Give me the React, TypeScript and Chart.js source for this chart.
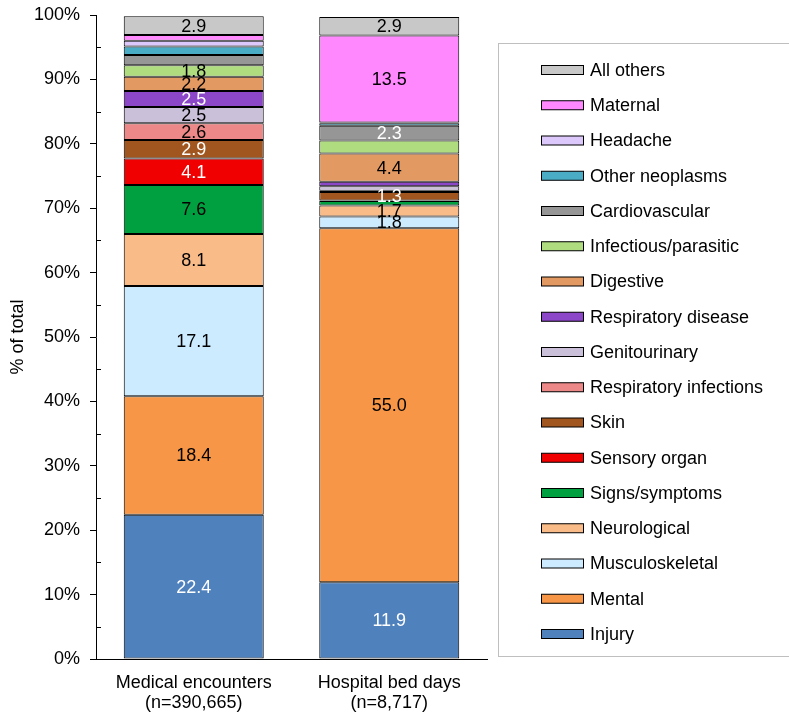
import React, { useEffect, useRef } from 'react';
import { Chart, registerables } from 'chart.js';
Chart.register(...registerables);

const categories = [['Medical encounters', '(n=390,665)'], ['Hospital bed days', '(n=8,717)']];
const seriesNames = ['Injury', 'Mental', 'Musculoskeletal', 'Neurological', 'Signs/symptoms', 'Sensory organ', 'Skin', 'Respiratory infections', 'Genitourinary', 'Respiratory disease', 'Digestive', 'Infectious/parasitic', 'Cardiovascular', 'Other neoplasms', 'Headache', 'Maternal', 'All others'];
const medicalValues = [22.4, 18.4, 17.1, 8.1, 7.6, 4.1, 2.9, 2.6, 2.5, 2.5, 2.2, 1.8, 1.6, 1.3, 0.9, 0.9, 2.9];
const hospitalValues = [11.9, 55.0, 1.8, 1.7, 0.7, 0.1, 1.3, 0.2, 0.7, 0.7, 4.4, 2.0, 2.3, 0.4, 0.1, 13.5, 2.9];
const medicalLabels = ['22.4', '18.4', '17.1', '8.1', '7.6', '4.1', '2.9', '2.6', '2.5', '2.5', '2.2', '1.8', '', '', '', '', '2.9'];
const hospitalLabels = ['11.9', '55.0', '1.8', '1.7', '', '', '1.3', '', '', '', '4.4', '', '2.3', '', '', '13.5', '2.9'];
const seriesColors = ['#4F81BD', '#F79646', '#CCEBFF', '#F9BC88', '#00A040', '#F00000', '#A0561E', '#EC8888', '#CBC0DA', '#8C46C8', '#E39A62', '#B0DC80', '#969696', '#4BACC6', '#DCC8FA', '#FF88FF', '#C8C8C8'];
const labelColors = ['#FFFFFF', '#000000', '#000000', '#000000', '#000000', '#FFFFFF', '#FFFFFF', '#000000', '#000000', '#FFFFFF', '#000000', '#000000', '#FFFFFF', '#000000', '#000000', '#000000', '#000000'];
const yTickMax = 100;
const yTickStep = 10;

const FONT = "'Liberation Sans', Arial, sans-serif";

const extrasPlugin = {
  id: 'extras',
  afterDatasetsDraw(chart: any) {
    const ctx = chart.ctx;
    const allLabels = [medicalLabels, hospitalLabels];
    ctx.save();
    ctx.font = `18px ${FONT}`;
    ctx.textAlign = 'center';
    ctx.textBaseline = 'middle';
    chart.data.datasets.forEach((ds: any, i: number) => {
      const meta = chart.getDatasetMeta(i);
      meta.data.forEach((el: any, j: number) => {
        const txt = allLabels[j][i];
        if (!txt) return;
        ctx.fillStyle = labelColors[i];
        ctx.fillText(txt, el.x, (el.y + el.base) / 2 + 1);
      });
    });
    ctx.restore();
  },
  afterDraw(chart: any) {
    const ctx = chart.ctx;
    const ca = chart.chartArea;
    const y = chart.scales.y;
    ctx.save();
    ctx.strokeStyle = '#000';
    ctx.lineWidth = 1;
    for (let v = yTickStep / 2; v < yTickMax; v += yTickStep) {
      const py = Math.round(y.getPixelForValue(v)) + 0.5;
      ctx.beginPath();
      ctx.moveTo(ca.left, py);
      ctx.lineTo(ca.left + 5, py);
      ctx.stroke();
    }
    const lx = ca.right + 11.5;
    ctx.strokeStyle = '#BFBFBF';
    ctx.strokeRect(lx, 43.5, chart.width - lx + 5, 613);
    const n = chart.data.datasets.length;
    ctx.font = `18px ${FONT}`;
    ctx.textAlign = 'left';
    ctx.textBaseline = 'middle';
    for (let k = 0; k < n; k++) {
      const i = n - 1 - k;
      const ds = chart.data.datasets[i];
      const cy = 70 + k * 35.25;
      ctx.fillStyle = ds.backgroundColor;
      ctx.fillRect(541, cy - 4.5, 43, 9);
      ctx.strokeStyle = '#000';
      ctx.strokeRect(541.5, cy - 4.5, 42, 9);
      ctx.fillStyle = '#000';
      ctx.fillText(ds.label, 590, cy + 1);
    }
    ctx.restore();
  },
};

export default function App() {
  const ref = useRef<HTMLCanvasElement>(null);
  useEffect(() => {
    document.body.style.margin = '0';
    const chart = new Chart(ref.current as HTMLCanvasElement, {
      type: 'bar',
      data: {
        labels: categories as any,
        datasets: seriesNames.map((name, i) => ({
          label: name,
          data: [medicalValues[i], hospitalValues[i]],
          backgroundColor: seriesColors[i],
          borderColor: '#000',
          borderWidth: 1,
          borderSkipped: false,
          barPercentage: 0.716,
          categoryPercentage: 1,
        })),
      },
      options: {
        animation: false,
        responsive: false,
        layout: { padding: { left: 3, right: 302, top: 15, bottom: 0 } },
        plugins: { legend: { display: false }, tooltip: { enabled: false } },
        scales: {
          x: {
            stacked: true,
            afterFit: (s: any) => { s.height = 53; },
            grid: { display: true, drawOnChartArea: false, drawTicks: false },
            border: { display: true, color: '#000', width: 1 },
            ticks: { color: '#000', padding: 14, font: { family: FONT, size: 18, lineHeight: 1.12 }, maxRotation: 0 },
          },
          y: {
            stacked: true,
            min: 0,
            max: yTickMax,
            afterFit: (s: any) => { s.width = 93; s.paddingTop = 0; s.paddingBottom = 0; },
            grid: { display: true, drawOnChartArea: false, drawTicks: true, tickLength: 6, color: '#000' },
            border: { display: true, color: '#000', width: 1 },
            ticks: { stepSize: yTickStep, color: '#000', padding: 10, font: { family: FONT, size: 18 }, callback: (v: any) => v + '%' },
            title: { display: true, text: '% of total', color: '#000', font: { family: FONT, size: 18 }, padding: { top: 4, bottom: 5 } },
          },
        },
      },
      plugins: [extrasPlugin],
    });
    return () => chart.destroy();
  }, []);
  return <canvas ref={ref} width={789} height={712} style={{ display: 'block' }} />;
}
